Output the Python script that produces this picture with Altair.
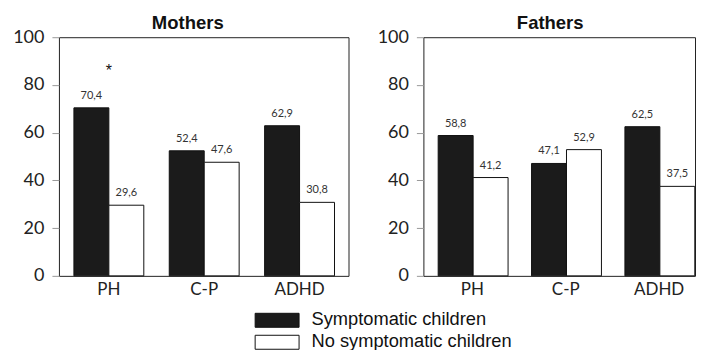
import altair as alt
import pandas as pd

categories = ["PH", "C-P", "ADHD"]
groups = ["Symptomatic children", "No symptomatic children"]
mothers_sym = [70.4, 52.4, 62.9]
mothers_no = [29.6, 47.6, 30.8]
fathers_sym = [58.8, 47.1, 62.5]
fathers_no = [41.2, 52.9, 37.5]
star_cat = ["PH"]
star_value = [86]
star_text = ["*"]
y_ticks = [0, 20, 40, 60, 80, 100]

legend = alt.Legend(
    title=None, orient="none", legendX=208, legendY=273, padding=0,
    symbolType="M-2.2,-0.7L2.2,-0.7L2.2,0.7L-2.2,0.7Z", symbolSize=400,
    symbolStrokeColor="#111", symbolStrokeWidth=1,
    labelFont="Liberation Sans", labelFontSize=18.3, labelColor="#111",
    labelOffset=24, labelLimit=400, rowPadding=2,
)


def panel(name, sym, no, width, outer, align, star, dx):
    df = pd.DataFrame({
        "cat": categories * 2,
        "group": [groups[0]] * 3 + [groups[1]] * 3,
        "value": sym + no,
    })
    df["label"] = df["value"].map(lambda v: f"{v:.1f}".replace(".", ","))
    xs = alt.X("cat:N", sort=categories,
               scale=alt.Scale(paddingInner=0.267, paddingOuter=outer, align=align,
                               round=False),
               axis=alt.Axis(title=None, labelAngle=0, ticks=False, domain=False,
                             labelFont="Lato", labelFontSize=17, labelColor="#222",
                             labelPadding=6))
    xo = alt.XOffset("group:N", sort=groups,
                     scale=alt.Scale(paddingInner=0, paddingOuter=0))
    ys = alt.Y("value:Q", scale=alt.Scale(domain=[0, 100]),
               axis=alt.Axis(title=None, values=y_ticks, labelFont="Lato",
                             labelFontSize=18, tickSize=7, labelPadding=8,
                             domain=False, tickColor="#999", labelColor="#222"))
    bars = alt.Chart(df).mark_bar(stroke="#111", strokeWidth=1).encode(
        x=xs, xOffset=xo, y=ys,
        color=alt.Color("group:N", sort=groups,
                        scale=alt.Scale(domain=groups, range=["#1b1b1b", "#ffffff"]),
                        legend=legend),
    )
    text = alt.Chart(df).mark_text(font="Lato", fontSize=11, color="#333",
                                   baseline="middle", dy=-12).encode(
        x=alt.X("cat:N", sort=categories), xOffset=xo,
        y="value:Q", text="label:N")
    layers = [bars, text]
    if star:
        sdf = pd.DataFrame({"cat": star_cat, "value": star_value, "t": star_text})
        layers.append(alt.Chart(sdf).mark_text(font="Liberation Sans", fontSize=16,
                                               color="#111", baseline="middle").encode(
            x=alt.X("cat:N", sort=categories), y="value:Q", text="t:N"))
    return alt.layer(*layers).properties(
        width=width, height=239,
        title=alt.Title(name, font="Liberation Sans", fontSize=18.5, fontWeight="bold",
                        anchor="middle", dx=dx, offset=-4, color="#111"),
    )


m = panel("Mothers", mothers_sym, mothers_no, 290, 0.152, 0.517, True, -16)
f = panel("Fathers", fathers_sym, fathers_no, 272, 0.088, 0.9, False, -9)

chart = alt.hconcat(m, f, spacing=27).properties(
    padding={"left": 4, "top": 5, "right": 0, "bottom": -2},
    background="white",
).configure_view(stroke="#222", strokeWidth=1).configure_axis(grid=False)

chart.save("out.html", embed_options={"renderer": "svg", "actions": False})
